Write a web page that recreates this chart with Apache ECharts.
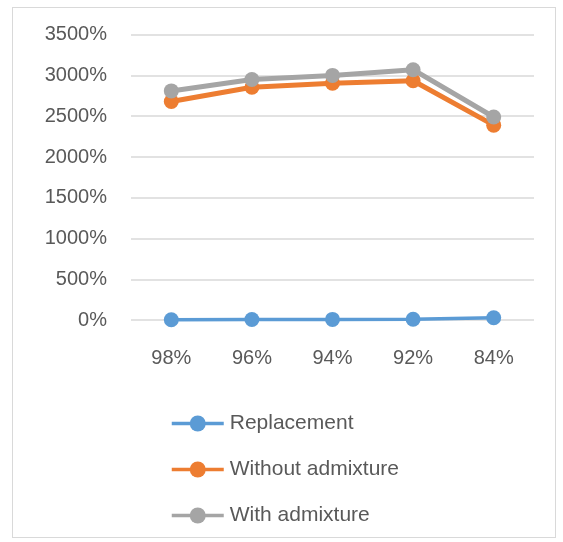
<!DOCTYPE html>
<html>
<head>
<meta charset="utf-8">
<script src="https://cdn.jsdelivr.net/npm/echarts@6/dist/echarts.min.js"></script>
<style>
  html, body { margin: 0; padding: 0; background: #fff; }
  #frame { position: absolute; left: 12px; top: 7px; width: 542px; height: 529px; border: 1px solid #d9d9d9; }
  #chart { position: absolute; left: 0; top: 0; width: 563px; height: 542px; }
</style>
</head>
<body>
<div id="frame"></div>
<div id="chart"></div>
<script>
const categories = ['98%', '96%', '94%', '92%', '84%'];
const replacement = [5, 8, 10, 12, 30];
const withoutAdmixture = [2680, 2855, 2905, 2935, 2390];
const withAdmixture = [2810, 2950, 3000, 3070, 2490];

const font = 'Liberation Sans';

function lineSeries(name, data, color, width) {
  return {
    name: name,
    type: 'line',
    data: data,
    symbol: 'circle',
    symbolSize: 15,
    lineStyle: { color: color, width: width },
    itemStyle: { color: color },
    emphasis: { disabled: true }
  };
}

const chart = echarts.init(document.getElementById('chart'));
chart.setOption({
  animation: false,
  grid: { left: 131, right: 29, top: 34.6, bottom: 221.8 },
  xAxis: {
    type: 'category',
    data: categories,
    axisLine: { show: false },
    axisTick: { show: false },
    axisLabel: { color: '#595959', fontFamily: font, fontSize: 20, margin: 28 }
  },
  yAxis: {
    type: 'value',
    min: 0,
    max: 3500,
    interval: 500,
    axisLabel: {
      color: '#595959', fontFamily: font, fontSize: 20, margin: 24,
      formatter: function (v) { return v + '%'; }
    },
    splitLine: { lineStyle: { color: '#d9d9d9', width: 1.5 } }
  },
  legend: {
    orient: 'vertical',
    left: 165,
    top: 408,
    itemGap: 25,
    itemWidth: 52,
    itemHeight: 20,
    lineStyle: { width: 3.5 },
    textStyle: { color: '#595959', fontFamily: font, fontSize: 21, padding: [0, 0, 0, 1] },
    data: ['Replacement', 'Without admixture', 'With admixture']
  },
  series: [
    lineSeries('Replacement', replacement, '#5B9BD5', 3.5),
    lineSeries('Without admixture', withoutAdmixture, '#ED7D31', 5),
    lineSeries('With admixture', withAdmixture, '#A5A5A5', 5)
  ]
});
</script>
</body>
</html>
